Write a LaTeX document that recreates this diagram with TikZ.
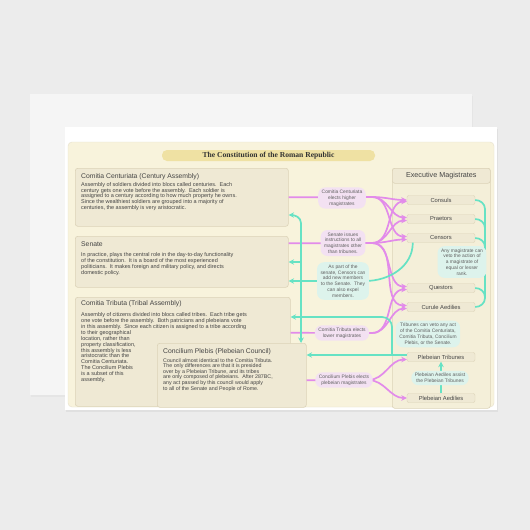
\documentclass[tikz,border=0pt]{standalone}
\usepackage{fontspec}
\setmainfont{Liberation Serif}
\setsansfont{Liberation Sans}
\usetikzlibrary{arrows.meta}

\definecolor{pagegray}{HTML}{ECECEC}
\definecolor{cream}{HTML}{F8F3DC}
\definecolor{boxfill}{HTML}{EFE9D4}
\definecolor{boxline}{HTML}{DCD3B8}
\definecolor{titlebar}{HTML}{EFE1A3}
\definecolor{vlink}{HTML}{E28BEA}
\definecolor{tlink}{HTML}{66E2C4}
\definecolor{vbubble}{HTML}{F3E1F2}
\definecolor{tbubble}{HTML}{DDF3EC}
\definecolor{ink}{HTML}{444444}

\begin{document}
\begin{tikzpicture}[x=1pt,y=1pt,
  font=\sffamily, text=ink,
  >={Stealth[length=5.5pt,width=5.5pt]},
  box/.style={draw=boxline, fill=boxfill, rounded corners=2.5pt, line width=0.6pt, inner sep=0pt},
  head/.style={font=\sffamily\fontsize{6.8}{8}\selectfont, anchor=north west, inner sep=0pt},
  body/.style={font=\sffamily\fontsize{5.5}{5.9}\selectfont, anchor=north west, inner sep=0pt, align=left},
  office/.style={draw=boxline, fill=boxfill, rounded corners=2pt, minimum width=68, minimum height=9, inner sep=0pt, font=\sffamily\fontsize{5.8}{6}\selectfont},
  vline/.style={draw=vlink, line width=1.7pt},
  tline/.style={draw=tlink, line width=1.7pt},
  vnote/.style={fill=vbubble, rounded corners=7pt, align=center, inner xsep=3.5pt, inner ysep=2.5pt, font=\sffamily\fontsize{4.9}{5.8}\selectfont, text=ink!85},
  tnote/.style={vnote, fill=tbubble},
]
\fill[pagegray] (0,0) rectangle (530,-530);
\fill[black!10] (31,-96) rectangle (473,-397);
\fill[white!96!black] (30,-94) rectangle (472,-395);
\fill[black!12] (66,-129) rectangle (498,-412);
\fill[white] (65,-127) rectangle (497,-410);
\draw[fill=cream, draw=boxline!70, rounded corners=4pt] (68,-142) rectangle (494,-407);

\node[fill=titlebar, rounded corners=5pt, minimum width=213, minimum height=11, inner sep=0pt,
  font=\rmfamily\bfseries\fontsize{7.6}{8}\selectfont, text=black!80] (title) at (268.5,-155.5)
  {The Constitution of the Roman Republic};

% assemblies and the senate
\node[box, anchor=north west, minimum width=213, minimum height=58] (cc) at (75,-168) {};
\node[head] (cchead) at (81,-173) {Comitia Centuriata (Century Assembly)};
\node[body] (cctext) at (81,-182) {Assembly of soldiers divided into blocs called centuries.\ \ Each\\
century gets one vote before the assembly.\ \ Each soldier is\\
assigned to a century according to how much property he owns.\\
Since the wealthiest soldiers are grouped into a majority of\\
centuries, the assembly is very aristocratic.};

\node[box, anchor=north west, minimum width=213, minimum height=51] (sen) at (75,-236) {};
\node[head] (senhead) at (81,-241.5) {Senate};
\node[body] (sentext) at (81,-252.5) {In practice, plays the central role in the day-to-day functionality\\
of the constitution.\ \ It is a board of the most experienced\\
politicians.\ \ It makes foreign and military policy, and directs\\
domestic policy.};

\node[box, anchor=north west, minimum width=215, minimum height=109] (ct) at (75,-297) {};
\node[head] (cthead) at (81,-300.5) {Comitia Tributa (Tribal Assembly)};
\node[body] (cttext) at (81,-312.5) {Assembly of citizens divided into blocs called tribes.\ \ Each tribe gets\\
one vote before the assembly.\ \ Both patricians and plebeians vote\\
in this assembly.\ \ Since each citizen is assigned to a tribe according\\
to their geographical\\
location, rather than\\
property classification,\\
this assembly is less\\
aristocratic than the\\
Comitia Centuriata.\\
The Concilium Plebis\\
is a subset of this\\
assembly.};

\node[box, anchor=north west, minimum width=149, minimum height=64] (cp) at (157,-343) {};
\node[head] (cphead) at (163,-348.5) {Concilium Plebis (Plebeian Council)};
\node[body, font=\sffamily\fontsize{5.3}{5.6}\selectfont] (cptext) at (163,-358) {Council almost identical to the Comitia Tributa.\\
The only differences are that it is presided\\
over by a Plebeian Tribune, and its tribes\\
are only composed of plebeians.\ \ After 287BC,\\
any act passed by this council would apply\\
to all of the Senate and People of Rome.};

% magistrates
\node[box, fill=cream!60!boxfill, anchor=north west, minimum width=98, minimum height=240] (exec) at (392,-168) {};
\node[box, anchor=north west, minimum width=98, minimum height=15, font=\sffamily\fontsize{7.2}{8}\selectfont] (exechead) at (392,-168) {Executive Magistrates};
\node[office] (consuls) at (441,-200) {Consuls};
\node[office] (praetors) at (441,-219) {Praetors};
\node[office] (censors) at (441,-238) {Censors};
\node[office] (questors) at (441,-288) {Questors};
\node[office] (curule) at (441,-307) {Curule Aedilies};
\node[office] (plebtrib) at (441,-357) {Plebeian Tribunes};
\node[office] (plebaed) at (441,-398) {Plebeian Aedilies};

% elections and instructions
\draw[vline,->] (cc.east) -- (372,-197) to[out=0,in=180] (consuls.west);
\draw[vline,->] (372,-197) to[out=0,in=180] ([yshift=1.5pt]praetors.west);
\draw[vline,->] (372,-197) to[out=0,in=180] ([yshift=1.5pt]censors.west);
\draw[vline,->] ([yshift=18.5pt]sen.east) -- (372,-243) to[out=0,in=180] ([yshift=-1.5pt]praetors.west);
\draw[vline,->] (372,-243) to[out=0,in=180] ([yshift=-1.5pt]consuls.west);
\draw[vline,->] (372,-243) to[out=0,in=180] ([yshift=-1.5pt]censors.west);
\draw[vline,->] (372,-243) to[out=0,in=180] ([yshift=1.5pt]questors.west);
\draw[vline,->] (372,-243) to[out=0,in=180] ([yshift=1.5pt]curule.west);
\draw[vline,->] ([yshift=19pt]ct.east) -- (372,-333) to[out=0,in=180] ([yshift=-1.5pt]questors.west);
\draw[vline,->] (372,-333) to[out=0,in=180] ([yshift=-1.5pt]curule.west);
\draw[vline,->] ([yshift=-5pt]cp.east) -- (368,-380) to[out=0,in=180] ([yshift=-2.5pt]plebtrib.west);
\draw[vline,->] (368,-380) to[out=0,in=180] (plebaed.west);

% vetoes
\coordinate (trout) at ([yshift=2pt]plebtrib.west);
\coordinate (trup) at (trout -| exec.west);
\coordinate (vx) at (301,-317);
\coordinate (vtop) at (301,-215);
\coordinate (vsen) at (301,-262);
\coordinate (cenl) at (365,-281);
\draw[tline,->] (trout) -- (trout -| cp.east);
\draw[tline,->] (trup) -- (392,-327) to[out=90,in=0] (382,-317) -- (vx -| ct.east);
\draw[tline,->] (vx) -- (301,-223) to[out=90,in=0] (vtop -| cc.east);
\draw[tline,->] (vsen) -- (vsen -| sen.east);
\draw[tline,->] (vx) -- (vx |- cp.north);
\draw[tline,->] ([xshift=6pt]censors.south west) to[out=-90,in=0] (cenl) -- (cenl -| sen.east);
\draw[tline,->] (plebaed.north) -- (plebtrib.south);
\draw[tline] (consuls.east) to[out=0,in=90] (485,-209) -- (485,-298) to[out=-90,in=0] (curule.east);
\draw[tline] (praetors.east) to[out=0,in=90] (485,-228);
\draw[tline] (censors.east) to[out=0,in=90] (485,-247);
\draw[tline] (questors.east) to[out=0,in=90] (485,-297);

% notes on the links
\node[vnote] (ccnote) at (342,-198) {Comitia Centuriata\\elects higher\\magistrates};
\node[vnote] (sennote) at (343,-243) {Senate issues\\instructions to all\\magistrates other\\than tribunes.};
\node[tnote] (cennote) at (343,-281) {As part of the\\senate, Censors can\\add new members\\to the Senate.\ \ They\\can also expel\\members.};
\node[vnote] (ctnote) at (342,-333) {Comitia Tributa elects\\lower magistrates};
\node[vnote] (cpnote) at (344,-380) {Concilium Plebis elects\\plebeian magistrates};
\node[tnote] (vetonote) at (462,-262) {Any magistrate can\\veto the action of\\a magistrate of\\equal or lesser\\rank.};
\node[tnote] (tribnote) at (428,-334) {Tribunes can veto any act\\of the Comitia Centuriata,\\Comitia Tributa, Concilium\\Plebis, or the Senate.};
\node[tnote] (aednote) at (440,-378) {Plebeian Aediles assist\\the Plebeian Tribunes};
\end{tikzpicture}
\end{document}
